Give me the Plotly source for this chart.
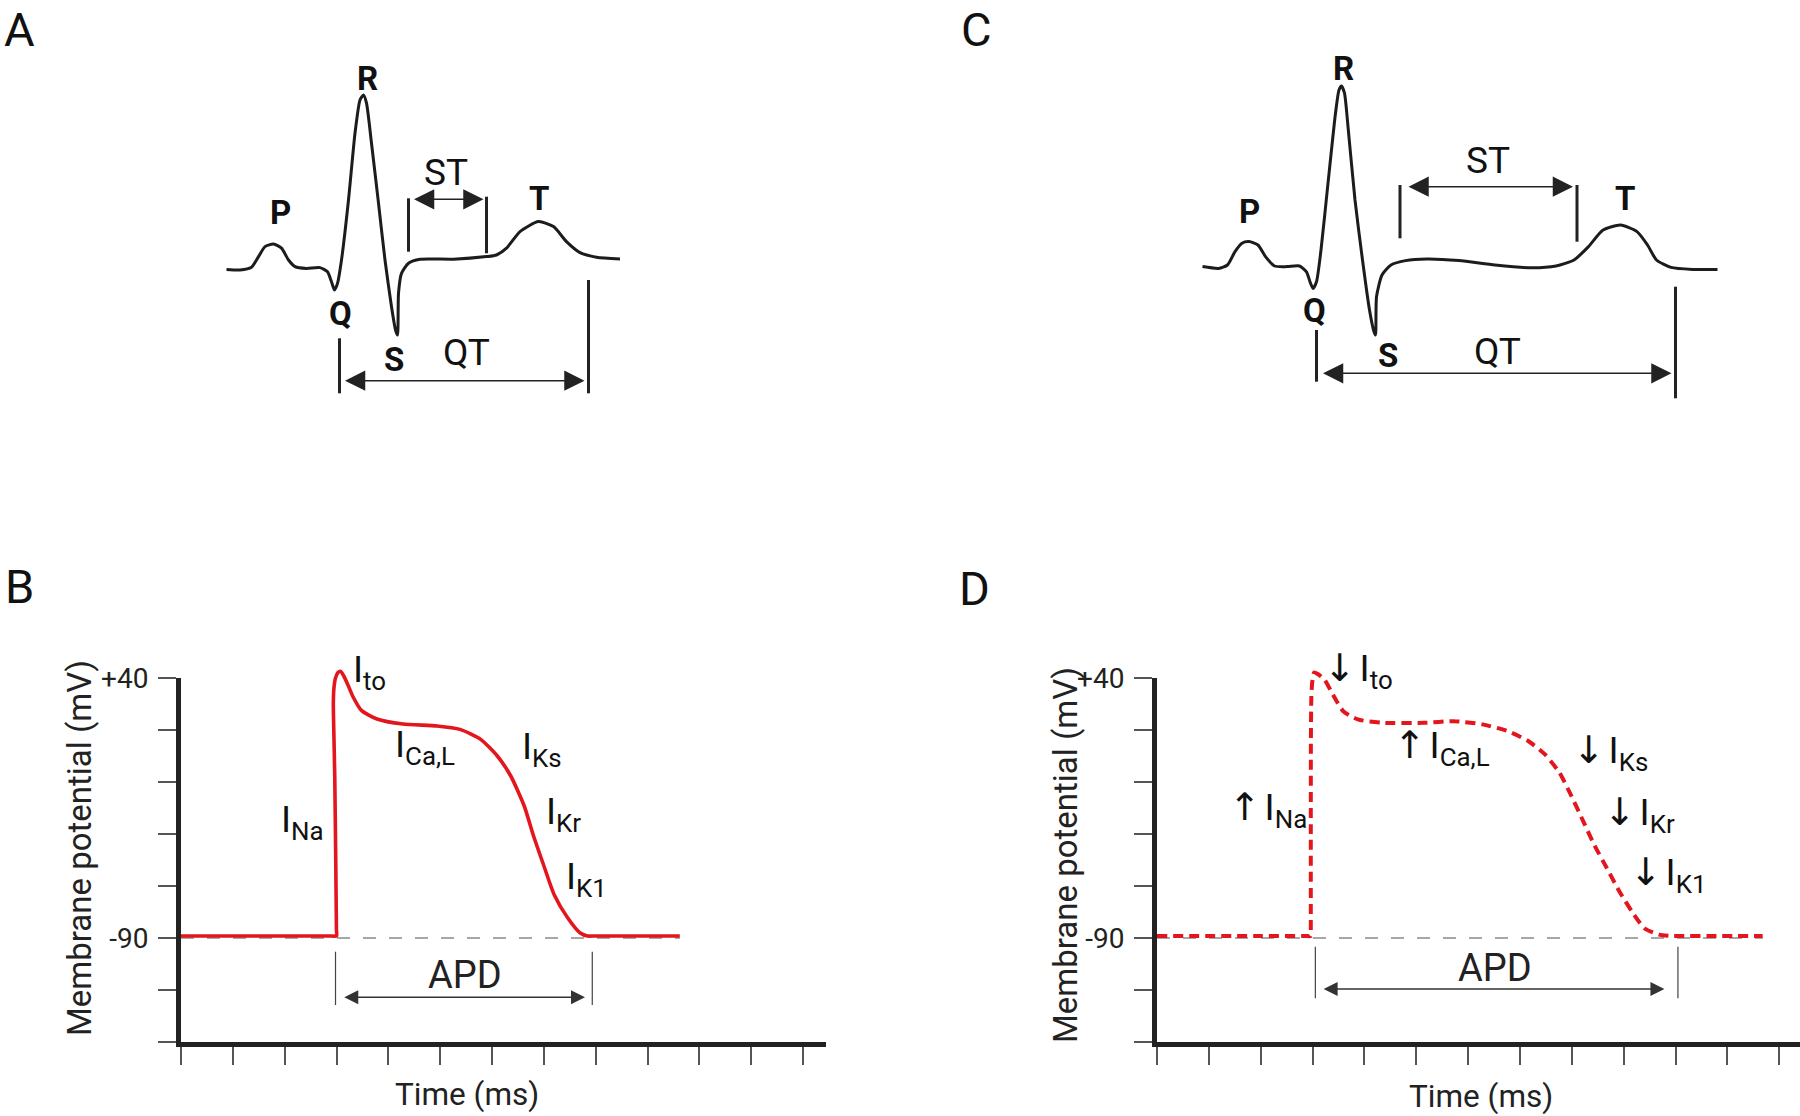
import plotly.graph_objects as go

W, H = 1800, 1116
FONT = "Roboto"

# ---------------- data ----------------
# Panel A: ECG, normal QT  (time in ms, amplitude in mV)
ECG_A_T = [53, 80, 103, 117, 130, 147, 163, 177, 190, 213, 240, 255, 263, 269, 275, 283, 297, 310, 320, 327,
           333, 343, 357, 370, 383, 391, 395, 397, 403, 417, 440, 507, 573, 593, 613, 640, 677, 707, 733, 760,
           793, 840]
ECG_A_V = [-0.007, -0.010, 0.004, 0.057, 0.107, 0.120, 0.099, 0.040, 0.007, -0.002, 0.002, -0.019, -0.069,
           -0.110, -0.077, 0.040, 0.340, 0.674, 0.840, 0.865, 0.824, 0.624, 0.324, 0.040, -0.194, -0.310,
           -0.335, -0.127, -0.027, 0.024, 0.044, 0.044, 0.057, 0.065, 0.099, 0.182, 0.232, 0.207, 0.132,
           0.077, 0.054, 0.045]

# Panel C: ECG, prolonged QT
ECG_C_T = [45, 77, 95, 110, 124, 138, 156, 171, 189, 214, 239, 253, 260, 266, 273, 282, 296, 311, 318, 323,
           329, 336, 350, 365, 379, 388, 391, 393, 404, 422, 451, 494, 558, 630, 702, 752, 788, 817, 846, 881,
           914, 935, 953, 982, 1025, 1075]
ECG_C_V = [0.002, -0.007, 0.010, 0.077, 0.119, 0.127, 0.110, 0.052, 0.005, 0.002, 0.005, -0.024, -0.074,
           -0.107, -0.074, 0.085, 0.419, 0.769, 0.885, 0.905, 0.869, 0.702, 0.335, 0.035, -0.215, -0.324,
           -0.340, -0.149, -0.040, 0.010, 0.032, 0.040, 0.032, 0.010, -0.004, 0.005, 0.035, 0.102, 0.185,
           0.210, 0.177, 0.110, 0.035, -0.002, -0.012, -0.012]

# Panel B: action potential, normal  (ms, mV)
AP_B_T = [0, 100, 145, 150, 149.9, 149.2, 148.3, 147.3, 146.9, 147.5, 149.0, 151.5, 154, 157, 161, 166, 174,
          189, 214, 247, 269, 289, 305, 318, 331, 340, 350, 360, 373, 385, 392, 398, 405, 440, 481]
AP_B_V = [-89, -89, -89, -89, -86, -50, -10, 15, 27, 35, 40, 42.8, 43.3, 41, 36.5, 30.5, 23.8, 19.5, 17, 16,
          14.3, 9.3, 1, -9, -24, -39, -54, -68.5, -80, -87.5, -89, -89, -89, -89, -89]

# Panel D: action potential, prolonged
AP_D_T = [0, 100, 143, 148.3, 148.3, 148.3, 148.4, 148.8, 149.6, 151.5, 155, 161.5, 169.6, 179.6, 193.6,
          217.6, 257.7, 285.8, 313.8, 337.8, 357.9, 373.9, 387.9, 397.9, 409.9, 421.9, 434, 446, 458, 470,
          484, 496, 505, 540, 584]
AP_D_V = [-89, -89, -89, -89, -86, -40, 10, 30, 37.5, 42.8, 42, 39.2, 31.7, 23.4, 19.3, 17.6, 17.6, 18.4,
          16.8, 13.5, 8.5, 1.9, -7.2, -17.2, -30.4, -43.7, -55.3, -66.9, -76.8, -85.1, -88.3, -89, -89, -89,
          -89]

RESTING = -90
REST_B_T = [0, 481]
REST_D_T = [0, 584]

Y_TICKS = [40, 14, -12, -38, -64, -90, -116, -142]
Y_TICK_TEXT = ["+40", "", "", "", "", "-90", "", ""]
X_TICKS = [0, 50, 100, 150, 200, 250, 300, 350, 400, 450, 500, 550, 600]

# intervals (ms)
A_ST = [417, 573]
A_QT = [279, 777]
C_ST = [440, 794]
C_QT = [273, 991]
B_APD = [149, 396.6]
D_APD = [152.7, 502.3]

ARROW_SPAN = '<span style="font-family:\'DejaVu Sans\';font-size:38px">{}</span>'
UP, DOWN = ARROW_SPAN.format("↑"), ARROW_SPAN.format("↓")
HAIR = "\u200a"
B_LABELS = ["I<sub>to</sub>", "I<sub>Ca,L</sub>", "I<sub>Ks</sub>", "I<sub>Kr</sub>", "I<sub>K1</sub>", "I<sub>Na</sub>"]
D_LABELS = [DOWN + HAIR + "I<sub>to</sub>", UP + HAIR + "I<sub>Ca,L</sub>", DOWN + HAIR + "I<sub>Ks</sub>",
            DOWN + HAIR + "I<sub>Kr</sub>", DOWN + HAIR + "I<sub>K1</sub>", UP + HAIR + "I<sub>Na</sub>"]


# ---------------- helpers ----------------
def xdom(p0, p1):
    return [max(0, p0 / W), min(1, p1 / W)]


def ydom(top, bottom):
    return [max(0, 1 - bottom / H), min(1, 1 - top / H)]


def paper(px, py):
    return px / W, 1 - py / H


def txt(text, x, y, xref, yref, size, bold=False, xanchor="center", angle=0, color="#111", yanchor="middle"):
    return dict(text=text, x=x, y=y, xref=xref, yref=yref, showarrow=False, xanchor=xanchor,
                yanchor=yanchor, textangle=angle,
                font=dict(family=FONT, size=size, color=color, weight=700 if bold else 400))


def darrow(x0, x1, y, xref, yref, width, size, color):
    return dict(x=x1, y=y, ax=x0, ay=y, xref=xref, yref=yref, axref=xref, ayref=yref, text="",
                showarrow=True, arrowhead=2, startarrowhead=2, arrowside="end+start",
                arrowsize=size, startarrowsize=size, arrowwidth=width, arrowcolor=color)


def vline(x, y0, y1, xref, yref, width, color):
    return dict(type="line", x0=x, x1=x, y0=y0, y1=y1, xref=xref, yref=yref,
                line=dict(color=color, width=width))


fig = go.Figure()

ECG_COL = "#1c1c1c"
RED = "#e3161e"

fig.add_trace(go.Scatter(x=ECG_A_T, y=ECG_A_V, xaxis="x", yaxis="y", mode="lines",
                         line=dict(color=ECG_COL, width=3, shape="spline", smoothing=0.6)))
fig.add_trace(go.Scatter(x=ECG_C_T, y=ECG_C_V, xaxis="x3", yaxis="y3", mode="lines",
                         line=dict(color=ECG_COL, width=3, shape="spline", smoothing=0.6)))

fig.add_trace(go.Scatter(x=REST_B_T, y=[RESTING, RESTING], xaxis="x2", yaxis="y2", mode="lines",
                         line=dict(color="#8a8a8a", width=1.6, dash="13px,13px")))
fig.add_trace(go.Scatter(x=AP_B_T, y=AP_B_V, xaxis="x2", yaxis="y5", mode="lines",
                         line=dict(color=RED, width=3.6, shape="spline", smoothing=0.6)))
fig.add_trace(go.Scatter(x=REST_D_T, y=[RESTING, RESTING], xaxis="x4", yaxis="y4", mode="lines",
                         line=dict(color="#8a8a8a", width=1.6, dash="13px,13px")))
fig.add_trace(go.Scatter(x=AP_D_T, y=AP_D_V, xaxis="x4", yaxis="y6", mode="lines",
                         line=dict(color=RED, width=4, dash="10px,6px", shape="spline", smoothing=0.6)))

hidden = dict(visible=False, fixedrange=True)
ap_x = dict(showline=True, linewidth=5, linecolor="#222", ticks="outside", ticklen=18, tickwidth=1.5,
            tickcolor="#555", tickvals=X_TICKS, showticklabels=False, showgrid=False, zeroline=False,
            fixedrange=True, automargin=False)
ap_y = dict(showline=True, linewidth=5, linecolor="#222", ticks="outside", ticklen=18, tickwidth=1.5,
            tickcolor="#555", tickvals=Y_TICKS, ticktext=Y_TICK_TEXT, showgrid=False, zeroline=False,
            tickfont=dict(family=FONT, size=28, color="#222"), ticklabelstandoff=4, fixedrange=True,
            automargin=False)

layout = dict(
    width=W, height=H, margin=dict(l=0, r=0, t=0, b=0, pad=0), paper_bgcolor="white",
    plot_bgcolor="rgba(0,0,0,0)", showlegend=False, font=dict(family=FONT),
    xaxis=dict(domain=xdom(200, 640), range=[0, 880], anchor="y", **hidden),
    yaxis=dict(domain=ydom(40, 420), range=[-0.76, 1.14], anchor="x", **hidden),
    xaxis3=dict(domain=xdom(1180, 1740), range=[0, 1120], anchor="y3", **hidden),
    yaxis3=dict(domain=ydom(40, 420), range=[-0.765, 1.135], anchor="x3", **hidden),
    xaxis2=dict(domain=xdom(181, 826), range=[0, 622], anchor="y2", **ap_x),
    yaxis2=dict(domain=ydom(678, 1042), range=[-142, 40], anchor="x2", **ap_y),
    yaxis5=dict(domain=ydom(600, 1042), range=[-142, 79], anchor="x2", **hidden),
    xaxis4=dict(domain=xdom(1157, 1800), range=[0, 620], anchor="y4", **ap_x),
    yaxis4=dict(domain=ydom(678, 1042), range=[-142, 40], anchor="x4", **ap_y),
    yaxis6=dict(domain=ydom(600, 1042), range=[-142, 79], anchor="x4", **hidden),
)

shapes = []
ann = []

# ---- panel A brackets ----
BK = "#222"
shapes += [vline(A_ST[0], 0.0815, 0.3485, "x", "y", 3, BK), vline(A_ST[1], 0.0735, 0.3565, "x", "y", 3, BK),
           vline(A_QT[0], -0.6265, -0.3515, "x", "y", 3, BK), vline(A_QT[1], -0.6265, -0.06, "x", "y", 3, BK)]
ann += [darrow(A_ST[0] + 8, A_ST[1] - 6, 0.3435, "x", "y", 1.5, 2.7, BK),
        darrow(A_QT[0] + 8, A_QT[1] - 8, -0.5635, "x", "y", 1.5, 2.7, BK)]
ann += [txt("R", 335, 0.949, "x", "y", 33, True), txt("P", 160, 0.278, "x", "y", 33, True),
        txt("Q", 280, -0.225, "x", "y", 33, True), txt("S", 388, -0.455, "x", "y", 33, True),
        txt("T", 677, 0.35, "x", "y", 33, True), txt("ST", 492, 0.478, "x", "y", 37),
        txt("QT", 532, -0.423, "x", "y", 37)]

# ---- panel C brackets ----
shapes += [vline(C_ST[0], 0.1435, 0.41, "x3", "y3", 3, BK), vline(C_ST[1], 0.1265, 0.41, "x3", "y3", 3, BK),
           vline(C_QT[0], -0.5735, -0.315, "x3", "y3", 3, BK), vline(C_QT[1], -0.6565, -0.0985, "x3", "y3", 3, BK)]
ann += [darrow(C_ST[0] + 14, C_ST[1] - 8, 0.4015, "x3", "y3", 1.5, 2.7, BK),
        darrow(C_QT[0] + 10, C_QT[1] - 8, -0.5315, "x3", "y3", 1.5, 2.7, BK)]
ann += [txt("R", 327, 0.994, "x3", "y3", 33, True), txt("P", 138, 0.277, "x3", "y3", 33, True),
        txt("Q", 269, -0.215, "x3", "y3", 33, True), txt("S", 415, -0.444, "x3", "y3", 33, True),
        txt("T", 889, 0.341, "x3", "y3", 33, True), txt("ST", 616, 0.535, "x3", "y3", 37),
        txt("QT", 634, -0.424, "x3", "y3", 37)]

# ---- panel B ----
GR = "#444"
shapes += [vline(B_APD[0], -96.85, -123.5, "x2", "y2", 1.2, GR), vline(B_APD[1], -96.85, -123.5, "x2", "y2", 1.2, GR)]
ann += [darrow(B_APD[0] + 7, B_APD[1] - 7, -119.65, "x2", "y2", 1.4, 2.0, "#333"),
        txt("APD", 273.9, -108.5, "x2", "y2", 38, color="#222")]
b_pos = [(164, 43), (204.4, 5.5), (327.2, 4.65), (349.8, -27.75), (369, -60.25), (94.2, -32)]
for lab, (x, y) in zip(B_LABELS, b_pos):
    ann.append(txt(lab, x, y, "x2", "y5", 37, xanchor="left"))

# ---- panel D ----
shapes += [vline(D_APD[0], -94.35, -120.15, "x4", "y4", 1.2, GR), vline(D_APD[1], -94.35, -120.15, "x4", "y4", 1.2, GR)]
ann += [darrow(D_APD[0] + 6.5, D_APD[1] - 13, -115.5, "x4", "y4", 1.4, 2.0, "#333"),
        txt("APD", 325.6, -104.75, "x4", "y4", 38, color="#222")]
d_pos = [(159, 44), (227, 5.1), (399.5, 2.75), (429, -28), (454.5, -58.25), (67.5, -25.75)]
for lab, (x, y) in zip(D_LABELS, d_pos):
    ann.append(txt(lab, x, y, "x4", "y6", 37, xanchor="left"))

# ---- axis titles & panel letters (paper) ----
for text, (px, py), size, angle in [("Membrane potential (mV)", (79, 848), 33, -90),
                                     ("Membrane potential (mV)", (1065, 855), 33, -90),
                                     ("Time (ms)", (467, 1094), 31.5, 0),
                                     ("Time (ms)", (1481, 1096), 31.5, 0)]:
    x, y = paper(px, py)
    ann.append(txt(text, x, y, "paper", "paper", size, angle=angle, color="#222"))
for letter, (px, py), ya in [("A", (19, 0), "top"), ("B", (19, 586), "middle"),
                             ("C", (976, 0), "top"), ("D", (975, 588), "middle")]:
    x, y = paper(px, py)
    ann.append(txt(letter, x, y, "paper", "paper", 47, color="#111", yanchor=ya))

layout["shapes"] = shapes
layout["annotations"] = ann
fig.update_layout(**layout)

fig.write_html("out.html", config={"displayModeBar": False},
               post_script="document.body.style.margin='0';")
